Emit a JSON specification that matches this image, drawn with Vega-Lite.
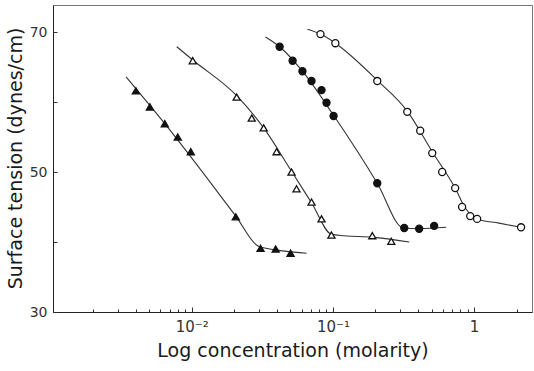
{
  "$schema": "https://vega.github.io/schema/vega-lite/v6.json",
  "width": 479,
  "height": 307,
  "autosize": {"type": "none"},
  "padding": {"left": 53, "top": 5, "right": 2, "bottom": 59},
  "background": "white",
  "config": {
    "view": {"stroke": "#777", "strokeWidth": 1},
    "font": "DejaVu Sans",
    "axis": {"grid": false, "labelFont": "DejaVu Sans", "titleFont": "DejaVu Sans", "labelColor": "#333", "titleColor": "#1a1a1a", "tickColor": "#333", "domainColor": "#222"}
  },
  "datasets": {
    "points": [
      {"series": "A", "conc": 0.00402, "tension": 61.6},
      {"series": "A", "conc": 0.00505, "tension": 59.3},
      {"series": "A", "conc": 0.00644, "tension": 56.9},
      {"series": "A", "conc": 0.00796, "tension": 55.0},
      {"series": "A", "conc": 0.00984, "tension": 52.9},
      {"series": "A", "conc": 0.0205, "tension": 43.6},
      {"series": "A", "conc": 0.0307, "tension": 39.1},
      {"series": "A", "conc": 0.0393, "tension": 39.0},
      {"series": "A", "conc": 0.0501, "tension": 38.4},
      {"series": "B", "conc": 0.01016, "tension": 65.9},
      {"series": "B", "conc": 0.0208, "tension": 60.7},
      {"series": "B", "conc": 0.0266, "tension": 57.7},
      {"series": "B", "conc": 0.0323, "tension": 56.3},
      {"series": "B", "conc": 0.0399, "tension": 52.9},
      {"series": "B", "conc": 0.0509, "tension": 50.0},
      {"series": "B", "conc": 0.0552, "tension": 47.6},
      {"series": "B", "conc": 0.0705, "tension": 45.7},
      {"series": "B", "conc": 0.083, "tension": 43.3},
      {"series": "B", "conc": 0.0976, "tension": 41.0},
      {"series": "B", "conc": 0.19, "tension": 40.9},
      {"series": "B", "conc": 0.259, "tension": 40.1},
      {"series": "C", "conc": 0.0419, "tension": 67.9},
      {"series": "C", "conc": 0.0518, "tension": 65.9},
      {"series": "C", "conc": 0.0608, "tension": 64.4},
      {"series": "C", "conc": 0.0705, "tension": 63.0},
      {"series": "C", "conc": 0.083, "tension": 61.7},
      {"series": "C", "conc": 0.09, "tension": 59.9},
      {"series": "C", "conc": 0.101, "tension": 58.0},
      {"series": "C", "conc": 0.206, "tension": 48.4},
      {"series": "C", "conc": 0.32, "tension": 42.0},
      {"series": "C", "conc": 0.408, "tension": 41.9},
      {"series": "C", "conc": 0.521, "tension": 42.3},
      {"series": "D", "conc": 0.0816, "tension": 69.7},
      {"series": "D", "conc": 0.104, "tension": 68.4},
      {"series": "D", "conc": 0.206, "tension": 63.0},
      {"series": "D", "conc": 0.336, "tension": 58.6},
      {"series": "D", "conc": 0.415, "tension": 55.9},
      {"series": "D", "conc": 0.505, "tension": 52.7},
      {"series": "D", "conc": 0.594, "tension": 50.0},
      {"series": "D", "conc": 0.734, "tension": 47.7},
      {"series": "D", "conc": 0.822, "tension": 45.0},
      {"series": "D", "conc": 0.938, "tension": 43.7},
      {"series": "D", "conc": 1.05, "tension": 43.3},
      {"series": "D", "conc": 2.15, "tension": 42.1}
    ],
    "curves": [
      {"series": "A", "conc": 0.00342, "tension": 63.6},
      {"series": "A", "conc": 0.00644, "tension": 56.9},
      {"series": "A", "conc": 0.0205, "tension": 43.7},
      {"series": "A", "conc": 0.0297, "tension": 39.4},
      {"series": "A", "conc": 0.0454, "tension": 38.7},
      {"series": "A", "conc": 0.065, "tension": 38.4},
      {"series": "B", "conc": 0.00783, "tension": 67.9},
      {"series": "B", "conc": 0.01016, "tension": 66.0},
      {"series": "B", "conc": 0.0208, "tension": 60.9},
      {"series": "B", "conc": 0.0323, "tension": 56.3},
      {"series": "B", "conc": 0.0509, "tension": 50.1},
      {"series": "B", "conc": 0.0705, "tension": 45.6},
      {"series": "B", "conc": 0.0976, "tension": 41.1},
      {"series": "B", "conc": 0.1205, "tension": 40.9},
      {"series": "B", "conc": 0.19, "tension": 40.7},
      {"series": "B", "conc": 0.347, "tension": 40.0},
      {"series": "C", "conc": 0.0333, "tension": 69.3},
      {"series": "C", "conc": 0.0419, "tension": 67.9},
      {"series": "C", "conc": 0.0608, "tension": 64.4},
      {"series": "C", "conc": 0.101, "tension": 58.1},
      {"series": "C", "conc": 0.206, "tension": 48.4},
      {"series": "C", "conc": 0.315, "tension": 42.0},
      {"series": "C", "conc": 0.408, "tension": 41.9},
      {"series": "C", "conc": 0.634, "tension": 42.1},
      {"series": "D", "conc": 0.066, "tension": 70.4},
      {"series": "D", "conc": 0.0816, "tension": 69.7},
      {"series": "D", "conc": 0.104, "tension": 68.4},
      {"series": "D", "conc": 0.206, "tension": 63.1},
      {"series": "D", "conc": 0.336, "tension": 58.7},
      {"series": "D", "conc": 0.505, "tension": 52.9},
      {"series": "D", "conc": 0.734, "tension": 47.7},
      {"series": "D", "conc": 0.864, "tension": 44.9},
      {"series": "D", "conc": 1.05, "tension": 43.3},
      {"series": "D", "conc": 1.5, "tension": 42.7},
      {"series": "D", "conc": 2.15, "tension": 42.1}
    ]
  },
  "resolve": {"axis": {"x": "independent", "y": "independent"}},
  "layer": [
    {
      "data": {"name": "curves"},
      "mark": {"type": "line", "interpolate": "monotone", "color": "#333", "strokeWidth": 1.1},
      "encoding": {
        "detail": {"field": "series"},
        "x": {
          "field": "conc", "type": "quantitative",
          "scale": {"type": "log", "domain": [0.00104, 2.57], "nice": false},
          "axis": {
            "orient": "bottom", "values": [0.002, 0.003, 0.004, 0.005, 0.006, 0.007, 0.008, 0.009, 0.02, 0.03, 0.04, 0.05, 0.06, 0.07, 0.08, 0.09, 0.2, 0.3, 0.4, 0.5, 0.6, 0.7, 0.8, 0.9, 2],
            "labels": false, "domain": false, "title": null, "tickSize": -3, "tickWidth": 1
          }
        },
        "y": {
          "field": "tension", "type": "quantitative",
          "scale": {"domain": [30, 73.86], "nice": false, "zero": false},
          "axis": {
            "orient": "left", "values": [30, 40, 50, 60, 70], "labels": false, "domain": false, "title": null, "tickSize": -4, "tickWidth": 1
          }
        }
      }
    },
    {
      "data": {"name": "points"},
      "mark": {"type": "point", "filled": true, "stroke": "#111", "strokeWidth": 1.3, "opacity": 1},
      "encoding": {
        "x": {
          "field": "conc", "type": "quantitative",
          "scale": {"type": "log", "domain": [0.00104, 2.57], "nice": false},
          "axis": {
            "orient": "bottom", "values": [0.01, 0.1, 1],
            "labelExpr": "datum.value < 0.05 ? '10⁻²' : datum.value < 0.5 ? '10⁻¹' : '1'",
            "labelFontSize": 15, "labelPadding": 12, "labelBaseline": "top",
            "tickSize": -5, "tickWidth": 1,
            "title": "Log concentration (molarity)", "titleFontSize": 19, "titleFontWeight": "normal",
            "titleBaseline": "middle", "titleY": 38
          }
        },
        "y": {
          "field": "tension", "type": "quantitative",
          "scale": {"domain": [30, 73.86], "nice": false, "zero": false},
          "axis": {
            "orient": "left", "values": [30, 50, 70], "tickSize": 0,
            "labelFontSize": 14, "labelPadding": 6,
            "title": "Surface tension (dynes/cm)", "titleFontSize": 19, "titleFontWeight": "normal",
            "titleBaseline": "middle", "titleX": -38, "titleY": 153
          }
        },
        "shape": {
          "field": "series", "type": "nominal", "legend": null,
          "scale": {"domain": ["A", "B", "C", "D"], "range": ["triangle-up", "triangle-up", "circle", "circle"]}
        },
        "fill": {
          "field": "series", "type": "nominal", "legend": null,
          "scale": {"domain": ["A", "B", "C", "D"], "range": ["#111", "white", "#111", "white"]}
        },
        "size": {"value": 50}
      }
    }
  ]
}
